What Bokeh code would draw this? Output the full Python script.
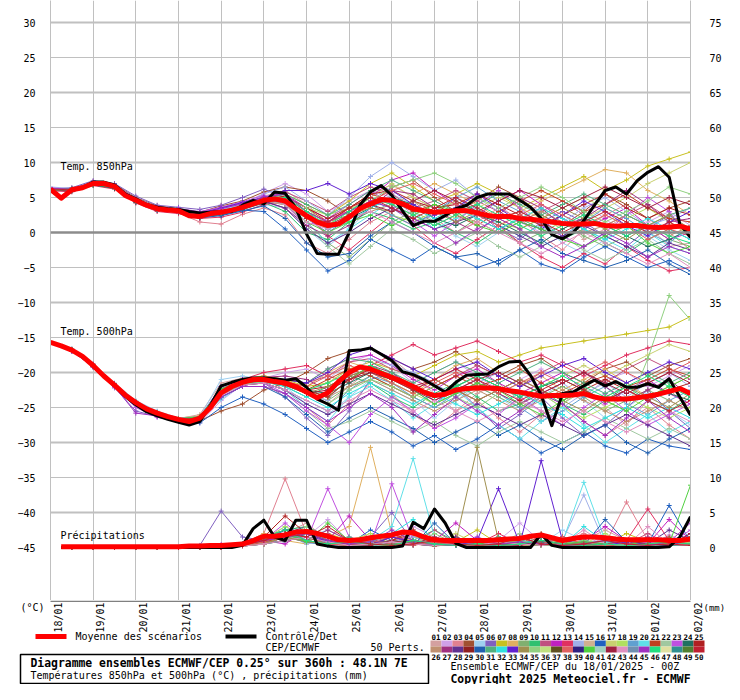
import math
from bokeh.plotting import figure
from bokeh.models import Range1d, LinearAxis, FixedTicker, Grid, Span
from bokeh.layouts import column
from bokeh.core.properties import value
from bokeh.embed import file_html
from bokeh.resources import INLINE

MONO = "DejaVu Sans Mono"

# ---------------- time steps (hours after 18/01/2025 00Z) ----------------
HOURS_6 = list(range(0, 361, 6))          # 61 steps
HOURS_12 = list(range(0, 361, 12))        # 31 steps
RR_HOURS_6 = list(range(6, 361, 6))       # 60 steps
RR_HOURS_12 = list(range(12, 361, 12))    # 30 steps

DATE_LABELS = ["18/01", "19/01", "20/01", "21/01", "22/01", "23/01", "24/01", "25/01",
               "26/01", "27/01", "28/01", "29/01", "30/01", "31/01", "01/02", "02/02"]
DATE_DAYS = list(range(16))
LEFT_TICKS = [30, 25, 20, 15, 10, 5, 0, -5, -10, -15, -20, -25, -30, -35, -40, -45]
RIGHT_TICKS = [75, 70, 65, 60, 55, 50, 45, 40, 35, 30, 25, 20, 15, 10, 5, 0]

# ---------------- mean / control (6-hourly) ----------------
MEAN_T850 = [6.2, 4.9, 6.1, 6.4, 7.0, 7.0, 6.6, 5.3, 4.6, 3.9, 3.4, 3.2, 3.1, 2.4, 2.3, 2.7,
             2.9, 3.2, 3.6, 4.1, 4.6, 4.8, 4.5, 3.4, 2.4, 1.5, 1.0, 1.2, 2.2, 3.4, 4.1, 4.7,
             4.6, 4.1, 3.4, 3.1, 2.9, 3.0, 3.1, 3.1, 2.8, 2.4, 2.3, 2.3, 2.0, 1.9, 1.7, 1.5,
             1.3, 1.2, 1.2, 1.3, 1.0, 0.9, 1.0, 1.0, 0.8, 0.7, 0.8, 0.9, 0.5]
CTRL_T850 = [6.0, 5.0, 6.0, 6.4, 7.2, 7.2, 6.8, 5.5, 4.8, 4.0, 3.6, 3.4, 3.3, 3.0, 2.8, 2.9,
             3.0, 3.0, 3.9, 4.6, 4.1, 5.8, 5.6, 3.5, -0.2, -3.0, -3.1, -3.1, 0.0, 3.9, 5.8, 6.7,
             5.3, 3.1, 1.0, 1.6, 1.6, 2.4, 3.4, 3.9, 5.0, 5.5, 5.5, 5.5, 4.6, 3.6, 2.0, -0.3,
             -0.9, 0.0, 1.7, 3.9, 6.0, 6.5, 5.5, 7.4, 8.6, 9.4, 7.9, 1.2, -0.7]
MEAN_T500 = [-15.7, -16.2, -16.8, -17.7, -19.0, -20.5, -21.8, -23.2, -24.3, -25.2,
             -25.8, -26.3, -26.7, -27.0, -26.5, -25.0, -22.9, -22.0, -21.4, -21.0,
             -21.0, -21.3, -21.5, -22.0, -22.8, -23.6, -22.9, -21.3, -20.0, -19.2,
             -19.5, -20.1, -20.7, -21.3, -22.0, -22.8, -23.3, -23.1, -22.5, -22.3,
             -22.2, -22.2, -22.3, -22.6, -22.8, -23.1, -23.4, -23.3, -23.3, -23.2,
             -23.0, -23.5, -23.8, -23.8, -23.8, -23.6, -23.4, -23.1, -22.7, -22.3, -23.0]
CTRL_T500 = [-15.7, -16.2, -16.8, -17.7, -19.0, -20.5, -21.9, -23.4, -24.6, -25.6,
             -26.2, -26.7, -27.1, -27.5, -27.0, -24.7, -21.9, -21.4, -21.0, -20.8,
             -20.8, -20.9, -21.1, -20.9, -22.1, -23.8, -24.5, -25.4, -16.9, -16.8,
             -16.5, -17.4, -18.3, -19.9, -20.3, -21.0, -21.9, -22.8, -21.4, -20.4,
             -20.3, -20.2, -19.2, -18.5, -18.4, -20.4, -23.2, -27.6, -23.0, -22.8,
             -21.9, -21.1, -21.9, -21.3, -22.1, -22.1, -21.6, -22.1, -20.9, -23.5, -26.1]
MEAN_RR = [0.1, 0.1, 0.1, 0.1, 0.1, 0.1, 0.1, 0.1, 0.1, 0.1, 0.1, 0.1,
           0.2, 0.2, 0.3, 0.3, 0.4, 0.5, 1.0, 1.6, 1.6, 1.8, 2.2, 2.3,
           2.0, 1.6, 1.1, 1.0, 1.1, 1.4, 1.6, 1.8, 2.2, 2.1, 1.5, 1.1,
           1.0, 1.0, 1.0, 1.0, 1.0, 1.1, 1.2, 1.3, 1.6, 1.8, 1.4, 1.0,
           1.3, 1.5, 1.5, 1.4, 1.2, 1.1, 1.1, 1.1, 1.1, 1.0, 1.0, 1.2]
CTRL_RR = [0, 0, 0, 0, 0, 0, 0, 0, 0, 0, 0, 0, 0, 0, 0, 0, 0,
           0.3, 2.7, 3.9, 1.5, 1.0, 3.9, 3.9, 0.5, 0.2,
           0, 0, 0, 0, 0, 0,
           0.2, 3.6, 2.7, 5.5, 3.5, 0.6,
           0, 0, 0, 0, 0, 0, 0,
           1.9, 0.3,
           0, 0, 0, 0, 0, 0, 0, 0, 0, 0,
           0.1, 1.5, 4.4]

# ---------------- perturbed members (12-hourly) ----------------
M01_T850 = [6.0, 6.3, 7.2, 6.8, 4.9, 3.6, 3.0, 2.0, 2.6, 3.9, 5.2, 6.0, 4.0, 1.5, 3.0, 5.5, 6.8, 5.0, 3.5, 4.2, 2.0, 0.5, 1.8, 3.5, 2.0, -1.0, 0.5, 2.5, 1.0, -2.0, -1.5]
M02_T850 = [6.4, 5.9, 6.8, 6.4, 4.3, 3.2, 3.3, 2.6, 3.4, 4.1, 5.6, 7.0, 5.5, 3.0, 4.5, 6.0, 5.0, 2.5, 1.0, 3.5, 5.5, 4.0, 1.5, 0.0, 2.5, 4.0, 2.0, -0.5, 1.5, 3.0, 1.0]
M03_T850 = [5.9, 6.0, 7.1, 6.5, 4.7, 3.3, 2.8, 1.5, 1.2, 2.6, 3.5, 2.5, -1.5, -3.0, -1.0, 1.5, 3.0, 4.5, 2.0, 0.0, 1.5, 3.5, 2.0, -0.5, -2.5, 0.5, 2.5, 4.0, 2.0, 0.0, -2.5]
M04_T850 = [6.3, 6.2, 7.3, 6.9, 5.0, 3.8, 3.4, 2.9, 3.8, 4.5, 5.8, 6.5, 6.0, 4.5, 2.5, 4.0, 6.5, 7.5, 5.0, 3.0, 4.5, 6.5, 5.0, 2.5, 1.0, 3.0, 5.5, 4.0, 2.0, 3.5, 4.5]
M05_T850 = [6.1, 6.0, 6.9, 6.5, 4.4, 3.1, 2.9, 2.2, 2.5, 3.0, 4.0, 3.5, 0.5, -2.0, 0.5, 3.5, 5.5, 4.0, 1.5, -0.5, -2.0, 0.0, 2.5, 1.0, -1.5, -3.0, -1.0, 1.5, -0.5, -2.5, -4.0]
M06_T850 = [6.2, 6.4, 7.4, 7.0, 5.2, 3.9, 3.6, 3.3, 3.9, 5.0, 6.2, 5.0, 2.0, 0.0, 2.0, 4.5, 3.5, 1.5, 2.5, 5.0, 3.0, 0.5, -1.0, 1.5, 3.0, 1.5, -0.5, -2.0, 0.5, 2.5, 0.0]
M07_T850 = [6.0, 6.1, 7.0, 6.7, 4.8, 3.5, 3.2, 2.4, 3.0, 3.8, 4.8, 5.5, 4.0, 2.5, 4.5, 7.0, 8.5, 6.5, 4.5, 5.5, 7.0, 5.5, 3.5, 5.0, 6.5, 8.0, 6.0, 7.5, 9.5, 10.5, 11.5]
M08_T850 = [6.3, 6.0, 6.9, 6.4, 4.5, 3.4, 3.1, 2.5, 3.1, 3.5, 4.5, 4.0, 2.0, 1.0, 3.5, 5.0, 4.0, 5.5, 7.0, 5.5, 4.0, 2.0, 3.0, 4.5, 6.0, 7.5, 9.0, 8.5, 6.0, 4.5, 2.5]
M09_T850 = [6.1, 6.2, 7.1, 6.6, 4.6, 3.4, 3.1, 2.2, 2.8, 3.5, 4.5, 4.0, 1.5, -1.5, -3.5, -1.0, 1.5, 3.0, 1.5, 0.0, 2.0, 0.5, -1.5, 0.0, 1.5, -0.5, -2.0, -0.5, 1.0, -1.0, -2.0]
M10_T850 = [6.1, 6.2, 7.1, 6.6, 4.6, 3.4, 3.0, 2.3, 2.8, 3.4, 4.3, 3.0, 0.0, -1.0, 1.5, 3.0, 2.0, 0.5, 1.5, 0.0, -1.5, 0.5, 2.0, 0.5, -1.0, 0.5, -1.5, -3.0, -1.0, 0.5, -1.0]
M11_T850 = [6.2, 6.0, 6.9, 6.6, 4.5, 3.3, 3.0, 2.4, 3.0, 3.8, 4.9, 5.8, 4.5, 3.0, 5.0, 6.5, 5.5, 3.5, 4.5, 6.0, 4.5, 3.0, 1.5, 3.0, 4.5, 2.5, 1.0, 2.5, 4.0, 2.0, 0.5]
M12_T850 = [6.2, 6.1, 7.0, 6.5, 4.5, 3.3, 3.2, 2.7, 3.5, 4.2, 5.0, 5.5, 3.5, 2.0, 3.0, 5.0, 7.5, 8.5, 6.0, 4.0, 2.5, 4.5, 6.0, 4.0, 2.0, 0.5, 2.0, 3.5, 1.0, -1.0, 0.0]
M13_T850 = [6.0, 5.8, 6.7, 6.2, 4.2, 3.0, 2.7, 2.0, 2.2, 2.9, 4.0, 4.5, 2.5, -0.5, -2.5, 0.0, 2.5, 1.0, -1.5, -3.0, -1.0, 1.0, -1.5, -3.5, -5.0, -3.0, -4.5, -2.0, -4.0, -5.5, -5.0]
M14_T850 = [6.5, 6.3, 7.2, 6.8, 4.9, 3.7, 3.3, 2.6, 3.3, 4.0, 5.5, 6.5, 4.5, 2.5, 5.0, 8.0, 10.0, 8.0, 6.0, 7.5, 5.0, 3.0, 4.5, 3.0, 1.5, 3.5, 5.0, 3.0, 1.0, 2.0, 3.5]
M16_T850 = [6.1, 6.0, 6.8, 6.4, 4.4, 3.2, 3.0, 2.4, 2.5, 3.2, 3.0, 0.5, -2.5, -5.5, -4.0, -1.0, -2.5, -4.0, -2.0, -3.5, -5.0, -4.0, -2.5, -4.5, -5.5, -3.5, -2.0, -3.5, -5.0, -4.0, -5.5]
M17_T850 = [6.3, 6.2, 7.1, 6.7, 4.7, 3.5, 3.2, 2.5, 3.1, 3.8, 4.7, 4.5, 2.0, 0.5, 2.5, 5.0, 7.0, 5.0, 3.5, 2.0, 3.5, 5.0, 3.5, 2.0, 0.5, 2.0, 3.5, 5.0, 7.0, 8.5, 10.0]
M18_T850 = [6.1, 6.1, 7.0, 6.5, 4.6, 3.4, 3.1, 2.3, 2.9, 3.6, 4.6, 5.0, 3.5, 2.5, 3.5, 4.0, 2.5, 1.5, 3.0, 4.5, 3.0, 1.5, 0.5, 2.0, 3.5, 5.0, 3.5, 2.0, 3.5, 1.5, -0.5]
M19_T850 = [6.2, 6.1, 6.9, 6.6, 4.6, 3.4, 3.0, 2.2, 2.7, 3.6, 4.8, 5.5, 3.0, 0.5, 2.5, 4.0, 2.5, 1.0, 3.0, 5.0, 6.5, 4.5, 3.0, 1.5, -0.5, 1.5, 3.5, 2.0, 0.0, -1.5, 1.0]
M20_T850 = [6.3, 6.2, 7.1, 6.7, 4.7, 3.5, 3.1, 2.5, 3.2, 3.9, 4.9, 4.5, 1.5, -1.5, 0.5, 2.5, 4.5, 3.0, 0.5, 2.0, 3.5, 1.0, -0.5, 1.0, 2.5, 0.5, -1.0, -2.5, 0.0, -2.0, -3.0]
M21_T850 = [6.0, 6.2, 7.0, 6.8, 4.8, 3.6, 3.2, 2.6, 3.0, 3.7, 4.6, 5.0, 3.5, 1.5, 3.5, 5.5, 4.5, 3.0, 4.0, 2.5, 1.0, 3.0, 4.5, 6.0, 4.5, 3.0, 4.0, 5.5, 3.5, 2.0, 1.5]
M22_T850 = [6.2, 6.2, 7.0, 6.6, 4.6, 3.5, 3.1, 2.4, 2.9, 3.6, 4.4, 4.0, 1.0, -2.0, -4.5, -2.0, 0.5, -1.0, -3.0, -1.5, 0.0, -2.0, -3.5, -2.0, -0.5, -2.5, -4.0, -2.5, -1.0, -3.0, -4.5]
M23_T850 = [6.4, 6.1, 7.2, 6.6, 4.6, 3.5, 3.4, 3.0, 3.6, 4.4, 5.3, 4.0, 1.0, 2.0, 4.0, 6.0, 4.0, 1.5, -0.5, 1.5, 4.0, 6.0, 3.5, 1.0, -0.5, -2.0, 0.0, 2.5, 5.0, 3.0, -1.0]
M24_T850 = [6.1, 5.9, 6.8, 6.3, 4.3, 3.2, 2.9, 2.2, 2.6, 3.3, 4.2, 4.5, 2.5, 0.5, 2.0, 3.5, 5.0, 4.0, 2.0, 1.0, 2.5, 1.5, 0.0, -1.5, 0.5, 2.0, 1.0, -0.5, -2.0, -1.0, 0.5]
M25_T850 = [6.0, 6.1, 7.0, 6.7, 4.7, 3.4, 3.0, 2.3, 2.9, 3.7, 4.8, 5.2, 3.5, 2.0, 3.5, 5.5, 6.0, 4.5, 3.5, 4.0, 5.5, 4.0, 2.5, 1.0, 2.5, 4.0, 5.5, 3.5, 2.0, 3.5, 2.5]
M26_T850 = [6.3, 6.0, 6.9, 6.5, 4.5, 3.3, 3.0, 2.2, 2.8, 3.5, 4.4, 4.0, 2.0, 1.0, 2.0, 3.0, 4.0, 2.5, 1.0, 2.5, 1.5, 0.0, 1.5, 3.0, 1.5, 0.0, 1.0, 2.5, 1.0, -0.5, 1.0]
M27_T850 = [6.2, 6.3, 7.1, 6.7, 4.7, 3.3, 3.0, 2.3, 2.9, 3.5, 4.4, 3.5, 1.0, -0.5, 1.0, 3.5, 6.0, 5.5, 3.5, 1.5, 0.0, 2.5, 5.0, 3.5, 1.0, 2.0, 4.0, 6.0, 4.0, 1.5, 2.0]
M28_T850 = [6.2, 6.1, 7.0, 6.6, 4.6, 3.4, 3.1, 2.3, 2.9, 3.6, 4.5, 3.5, 0.5, -1.5, 0.0, 2.0, 3.5, 2.0, 0.5, 1.5, 2.5, 1.0, -0.5, -2.0, -0.5, 1.0, -0.5, -2.0, -3.5, -1.5, -2.5]
M30_T850 = [6.0, 6.0, 6.9, 6.5, 4.5, 3.3, 3.1, 2.1, 2.4, 3.1, 3.8, 2.0, -1.5, -3.5, -3.0, -0.5, 1.5, 0.0, -2.0, -3.5, -3.0, -4.5, -2.5, -1.0, -3.0, -4.0, -5.0, -4.0, -2.5, -4.5, -6.0]
M31_T850 = [6.1, 6.2, 7.1, 6.7, 4.7, 3.5, 3.2, 2.4, 3.0, 3.7, 4.7, 5.5, 4.0, 2.5, 4.0, 6.0, 7.5, 6.0, 4.5, 3.0, 4.0, 5.5, 4.0, 2.5, 4.0, 5.5, 4.0, 2.5, 1.0, 2.5, 3.5]
M32_T850 = [6.2, 6.1, 7.0, 6.6, 4.6, 3.4, 3.0, 2.3, 2.9, 3.6, 4.6, 4.5, 2.5, 0.5, 1.5, 3.5, 5.0, 3.5, 2.0, 3.5, 2.0, 0.5, 2.0, 3.5, 2.0, 0.5, -1.0, 0.5, 2.0, 0.5, -1.0]
M33_T850 = [6.3, 6.2, 7.0, 6.6, 4.6, 3.5, 3.3, 2.8, 3.5, 4.3, 5.0, 6.0, 6.0, 7.0, 5.5, 7.0, 6.0, 4.0, 2.5, 3.5, 5.5, 3.5, 1.5, 0.5, 2.5, 4.5, 3.0, 1.0, -0.5, 1.5, 3.0]
M34_T850 = [6.0, 6.1, 7.0, 6.6, 4.7, 3.4, 3.1, 2.4, 2.9, 3.6, 4.6, 5.0, 3.0, 1.5, 2.5, 3.5, 3.0, 4.5, 3.0, 1.5, 3.0, 2.0, 0.5, 2.0, 3.5, 2.0, 0.5, -1.0, 1.0, 2.5, 0.5]
M35_T850 = [6.1, 6.1, 7.0, 6.5, 4.5, 3.4, 3.2, 2.6, 3.0, 3.6, 4.5, 5.0, 3.5, 1.0, 2.0, 4.5, 6.5, 7.5, 8.5, 7.0, 5.0, 3.5, 5.0, 6.5, 5.0, 3.0, 1.5, 3.0, 4.5, 6.5, 5.5]
M38_T850 = [6.3, 6.2, 7.1, 6.7, 4.7, 3.5, 3.2, 2.5, 3.0, 3.8, 4.8, 5.0, 3.0, 1.5, 3.0, 4.5, 6.0, 7.0, 5.5, 4.0, 2.5, 1.0, 2.5, 4.0, 2.5, 1.0, 2.5, 1.0, -1.0, 0.5, -0.5]
M40_T850 = [6.2, 6.0, 6.8, 6.5, 4.6, 3.3, 3.0, 2.3, 2.8, 3.7, 4.7, 4.0, 1.5, 0.0, 1.5, 2.5, 1.0, 2.5, 4.0, 3.0, 1.0, 0.0, 1.5, 0.5, -1.0, -2.0, -0.5, 1.0, -1.5, -3.0, -2.0]
M42_T850 = [6.1, 6.0, 6.9, 6.5, 4.5, 3.3, 3.0, 2.2, 2.8, 3.5, 4.5, 4.5, 2.5, 1.0, 2.5, 4.0, 3.0, 4.5, 6.0, 4.5, 3.0, 4.5, 6.0, 5.0, 3.5, 5.0, 6.5, 5.0, 3.5, 5.0, 4.0]
M43_T850 = [6.2, 6.1, 7.0, 6.6, 4.6, 3.4, 3.1, 2.4, 2.9, 3.6, 4.6, 4.0, 1.5, 0.5, 2.0, 3.0, 1.5, 0.0, -1.5, 0.0, 1.5, 0.0, -1.5, -3.0, -1.5, 0.0, -1.5, -3.0, -4.5, -3.0, -5.0]
M45_T850 = [6.3, 6.2, 7.1, 6.7, 4.8, 3.6, 3.3, 2.7, 3.4, 4.1, 5.1, 5.5, 3.0, 1.5, 3.0, 4.5, 3.5, 2.0, 0.5, -1.5, 0.5, 2.0, 0.5, -2.0, -3.5, -2.0, 0.0, -1.5, -3.5, -2.0, -3.0]
M46_T850 = [6.1, 6.2, 7.0, 6.6, 4.6, 3.4, 3.1, 2.3, 2.8, 3.6, 4.6, 5.0, 3.0, 1.0, 3.0, 5.0, 4.0, 2.5, 1.0, 2.5, 4.0, 2.5, 1.0, -0.5, 1.0, 2.5, 1.0, -0.5, 1.0, -0.5, -1.5]
M50_T850 = [6.2, 6.1, 7.0, 6.6, 4.7, 3.5, 3.1, 2.4, 3.0, 3.7, 4.7, 4.5, 2.0, 1.5, 3.5, 5.0, 3.5, 2.0, 3.5, 5.0, 3.5, 2.0, 3.0, 1.5, 0.0, 1.5, 3.0, 1.5, 0.0, 1.5, 0.0]

M01_T500 = [-15.6, -16.9, -19.1, -21.7, -24.4, -25.9, -26.6, -26.0, -21.5, -20.8, -20.5, -21.0, -22.5, -24.5, -22.0, -19.5, -18.0, -20.5, -23.0, -25.5, -23.0, -21.5, -24.0, -26.5, -24.5, -22.0, -25.0, -27.5, -24.0, -22.5, -25.0]
M02_T500 = [-15.8, -16.7, -18.9, -21.9, -24.2, -25.7, -26.8, -27.2, -24.0, -21.8, -20.8, -20.0, -19.5, -21.0, -18.5, -17.5, -19.0, -21.5, -20.0, -18.5, -20.5, -22.5, -21.0, -19.5, -21.5, -23.5, -21.0, -20.0, -22.0, -20.5, -19.0]
M03_T500 = [-15.7, -16.8, -19.0, -21.6, -24.5, -26.0, -26.9, -26.8, -22.0, -21.0, -20.8, -22.5, -25.0, -27.5, -24.5, -21.5, -23.0, -26.0, -28.0, -25.5, -24.0, -26.5, -28.5, -26.0, -24.5, -27.0, -29.0, -27.0, -25.0, -27.5, -29.5]
M04_T500 = [-15.7, -16.9, -19.2, -22.0, -24.6, -26.1, -26.9, -26.9, -25.5, -24.5, -22.5, -21.5, -20.0, -18.0, -17.0, -16.5, -18.0, -19.5, -18.5, -17.0, -19.0, -20.5, -19.0, -18.0, -20.0, -21.5, -19.5, -18.5, -20.5, -19.0, -18.0]
M05_T500 = [-15.6, -16.6, -18.8, -21.5, -24.0, -25.5, -26.5, -26.3, -21.0, -20.5, -21.0, -22.0, -24.5, -26.0, -23.5, -21.0, -22.5, -24.0, -26.5, -24.0, -22.0, -23.5, -25.5, -23.5, -21.5, -24.0, -26.5, -25.0, -23.0, -25.5, -27.5]
M06_T500 = [-15.8, -16.9, -19.2, -22.2, -25.5, -26.3, -26.9, -26.4, -22.5, -21.5, -21.5, -23.5, -26.5, -29.0, -25.5, -21.0, -20.0, -22.5, -24.5, -22.0, -25.0, -28.0, -26.0, -23.5, -26.5, -29.0, -27.5, -25.0, -22.5, -25.5, -28.0]
M07_T500 = [-15.7, -16.8, -19.0, -21.8, -24.3, -25.8, -26.6, -26.4, -22.5, -21.0, -20.5, -21.0, -22.0, -21.5, -19.5, -18.5, -19.5, -20.5, -19.0, -17.5, -17.0, -18.5, -17.5, -16.5, -16.0, -15.5, -15.0, -14.5, -14.0, -13.5, -12.0]
M08_T500 = [-15.7, -16.7, -18.9, -21.7, -24.2, -25.7, -26.5, -26.2, -22.8, -21.6, -21.2, -21.5, -22.0, -20.0, -18.5, -19.5, -21.5, -23.0, -21.0, -19.0, -18.0, -20.0, -21.5, -20.5, -22.5, -21.0, -19.5, -21.5, -23.5, -22.0, -20.5]
M09_T500 = [-15.7, -16.8, -19.0, -21.8, -24.3, -25.8, -26.7, -26.4, -22.5, -21.2, -21.0, -21.5, -23.0, -24.0, -22.0, -20.5, -22.0, -23.5, -25.0, -23.5, -22.0, -23.5, -25.0, -23.5, -22.0, -23.5, -25.5, -24.0, -22.5, -24.0, -25.5]
M10_T500 = [-15.6, -16.8, -19.1, -21.9, -24.4, -25.9, -26.8, -26.6, -23.0, -21.5, -21.3, -22.0, -23.5, -22.0, -20.5, -21.5, -23.5, -25.0, -23.0, -21.5, -23.5, -25.5, -24.5, -22.5, -24.5, -26.0, -24.0, -22.0, -24.0, -25.5, -23.5]
M11_T500 = [-15.7, -16.8, -19.0, -21.8, -24.3, -25.8, -26.7, -26.6, -23.0, -21.5, -21.0, -21.0, -21.5, -20.5, -18.5, -18.0, -19.5, -20.5, -22.0, -20.5, -19.0, -20.5, -22.0, -20.0, -18.5, -20.0, -21.5, -19.5, -18.0, -19.5, -21.0]
M12_T500 = [-15.8, -16.9, -19.1, -21.8, -24.3, -25.8, -26.7, -26.6, -23.5, -22.0, -21.0, -21.0, -21.5, -19.5, -18.0, -17.5, -19.0, -21.0, -22.5, -20.5, -19.5, -21.5, -23.0, -21.5, -20.0, -22.5, -24.5, -22.5, -21.0, -23.0, -24.5]
M13_T500 = [-15.7, -16.8, -19.0, -21.8, -24.3, -25.8, -26.6, -26.4, -22.5, -21.0, -20.0, -19.5, -19.0, -20.5, -21.5, -19.0, -17.5, -16.0, -17.5, -16.5, -15.5, -17.0, -18.5, -17.5, -19.0, -20.5, -19.0, -17.5, -16.5, -15.5, -16.0]
M14_T500 = [-15.7, -16.7, -18.9, -21.6, -24.1, -25.6, -26.5, -26.3, -22.0, -21.2, -21.0, -21.8, -23.0, -24.0, -20.5, -18.0, -19.0, -20.0, -21.5, -23.5, -21.5, -20.0, -21.5, -23.0, -25.0, -23.0, -21.5, -23.5, -21.5, -20.0, -22.0]
M16_T500 = [-15.7, -16.9, -19.2, -22.0, -24.5, -26.0, -26.9, -27.2, -25.0, -23.5, -24.5, -26.0, -28.0, -30.0, -28.5, -27.0, -28.5, -30.5, -29.0, -31.0, -29.5, -27.5, -29.5, -31.5, -30.0, -28.5, -30.5, -31.5, -29.5, -30.5, -31.0]
M17_T500 = [-15.7, -16.8, -19.0, -21.8, -24.3, -25.8, -26.7, -26.5, -22.8, -21.4, -21.0, -21.5, -22.5, -21.5, -19.5, -19.0, -20.5, -22.0, -23.5, -22.0, -20.5, -22.0, -23.5, -22.0, -20.5, -19.0, -20.5, -19.0, -17.5, -16.0, -17.0]
M18_T500 = [-15.7, -16.8, -19.0, -21.8, -24.3, -25.8, -26.7, -26.5, -23.0, -21.5, -21.0, -21.8, -23.0, -23.5, -21.0, -20.0, -21.5, -23.0, -24.5, -23.0, -21.5, -23.0, -24.5, -23.0, -25.0, -26.5, -25.0, -23.5, -25.0, -26.5, -25.0]
M19_T500 = [-15.7, -16.8, -19.0, -21.7, -24.3, -25.8, -26.7, -26.6, -23.0, -21.5, -21.5, -22.5, -24.0, -25.5, -22.5, -20.5, -21.5, -23.5, -25.0, -23.0, -21.5, -23.0, -25.0, -27.0, -25.5, -23.5, -22.0, -24.5, -26.0, -24.0, -22.5]
M20_T500 = [-15.6, -16.7, -18.9, -21.7, -24.3, -25.9, -26.8, -26.7, -23.8, -21.8, -21.5, -22.5, -25.0, -27.0, -23.5, -22.0, -24.0, -26.5, -24.5, -22.5, -25.0, -27.5, -29.5, -27.0, -25.0, -27.5, -30.0, -28.0, -26.0, -28.5, -27.0]
M21_T500 = [-15.7, -16.8, -19.1, -21.9, -24.4, -25.9, -26.7, -26.5, -23.0, -21.8, -21.5, -21.5, -22.5, -21.0, -19.5, -20.5, -22.0, -23.5, -22.0, -20.5, -22.0, -21.0, -19.5, -21.5, -23.0, -21.5, -20.5, -22.0, -21.0, -19.5, -20.5]
M22_T500 = [-15.7, -16.8, -19.0, -21.8, -24.3, -25.8, -26.7, -26.6, -23.5, -22.0, -22.0, -23.0, -25.5, -28.0, -27.0, -25.5, -27.0, -28.5, -27.0, -29.0, -30.5, -28.5, -27.0, -28.5, -30.0, -28.5, -26.5, -28.0, -29.5, -28.0, -29.5]
M23_T500 = [-15.8, -16.9, -19.2, -22.1, -25.0, -26.4, -27.0, -26.7, -22.2, -21.3, -21.5, -23.0, -25.5, -27.5, -30.0, -26.0, -23.5, -25.5, -28.0, -26.5, -24.5, -26.0, -23.5, -25.5, -27.5, -25.0, -23.0, -25.5, -27.5, -26.0, -24.5]
M24_T500 = [-15.7, -16.8, -19.0, -21.8, -24.3, -25.8, -26.6, -26.5, -22.6, -21.4, -21.2, -21.5, -22.5, -23.0, -21.5, -20.0, -21.0, -22.0, -23.5, -22.0, -20.5, -22.0, -23.5, -22.0, -21.0, -22.5, -24.0, -22.5, -21.5, -23.0, -24.0]
M25_T500 = [-15.7, -16.8, -19.0, -21.8, -24.3, -25.8, -26.7, -26.5, -22.7, -21.3, -21.0, -21.5, -22.5, -22.0, -20.5, -19.5, -20.5, -22.0, -21.0, -22.5, -24.0, -22.5, -21.0, -22.5, -24.0, -22.5, -21.0, -22.5, -24.0, -22.5, -21.5]
M26_T500 = [-15.7, -16.8, -19.0, -21.8, -24.3, -25.8, -26.7, -26.5, -22.9, -21.5, -21.2, -21.5, -22.5, -23.5, -22.0, -21.0, -22.5, -24.0, -25.5, -24.0, -22.5, -24.0, -25.5, -24.0, -22.5, -24.0, -25.5, -27.0, -25.5, -24.0, -25.5]
M27_T500 = [-15.6, -16.7, -18.8, -21.6, -24.2, -25.7, -26.6, -26.4, -22.4, -21.3, -20.7, -20.5, -21.0, -22.5, -21.0, -19.0, -20.0, -22.0, -24.0, -22.5, -21.0, -23.0, -24.5, -23.0, -21.5, -20.0, -22.0, -24.0, -22.5, -21.0, -23.5]
M28_T500 = [-15.7, -16.8, -19.0, -21.8, -24.3, -25.8, -26.7, -26.6, -23.2, -21.8, -21.5, -22.5, -24.5, -26.0, -24.5, -23.0, -24.5, -26.0, -27.5, -26.0, -24.5, -26.0, -27.5, -26.0, -27.5, -29.0, -27.5, -26.0, -27.5, -29.0, -30.5]
M30_T500 = [-15.7, -16.8, -19.1, -21.9, -24.4, -26.0, -26.8, -26.8, -23.5, -22.0, -22.0, -23.5, -26.0, -28.5, -26.5, -25.0, -26.5, -28.0, -30.0, -28.5, -27.0, -29.0, -27.5, -29.5, -31.0, -29.0, -27.5, -30.0, -31.5, -29.5, -28.0]
M31_T500 = [-15.7, -16.8, -19.0, -21.8, -24.3, -25.8, -26.7, -26.4, -22.4, -21.2, -20.8, -21.0, -21.5, -19.5, -18.0, -18.5, -20.0, -21.5, -20.0, -18.5, -20.0, -21.5, -20.0, -18.5, -20.0, -21.5, -23.0, -21.5, -20.0, -21.5, -20.0]
M32_T500 = [-15.7, -16.8, -19.0, -21.8, -24.3, -25.8, -26.7, -26.5, -23.0, -21.6, -21.3, -22.0, -23.5, -25.0, -23.0, -21.5, -23.0, -24.5, -23.0, -24.5, -26.0, -24.5, -23.0, -24.5, -26.0, -28.0, -26.5, -25.0, -26.5, -25.0, -26.5]
M33_T500 = [-15.7, -16.9, -19.1, -21.8, -24.3, -25.8, -26.7, -26.4, -22.0, -21.0, -20.8, -21.0, -21.5, -20.0, -17.5, -16.5, -18.0, -19.5, -21.0, -19.5, -18.5, -20.5, -22.0, -20.5, -19.0, -18.0, -20.0, -21.5, -20.0, -18.5, -19.5]
M34_T500 = [-15.7, -16.8, -19.0, -21.8, -24.3, -25.8, -26.7, -26.5, -22.7, -21.5, -21.2, -21.8, -23.0, -22.0, -20.5, -19.5, -21.0, -22.5, -21.0, -22.5, -24.0, -22.5, -21.0, -22.5, -24.0, -25.5, -23.5, -22.0, -23.5, -25.0, -23.0]
M35_T500 = [-15.7, -16.7, -19.0, -21.8, -24.3, -25.8, -26.6, -26.5, -23.2, -21.7, -21.3, -21.8, -23.0, -24.5, -22.5, -21.0, -22.0, -23.5, -22.0, -23.5, -25.0, -23.0, -21.5, -23.0, -24.5, -22.5, -24.0, -25.5, -18.0, -9.0, -12.5]
M38_T500 = [-15.7, -16.8, -19.0, -21.8, -24.3, -25.8, -26.7, -26.5, -22.8, -21.4, -21.0, -21.3, -22.0, -20.5, -19.0, -20.0, -21.5, -23.0, -21.5, -20.0, -21.5, -23.0, -21.5, -20.0, -21.5, -20.0, -18.5, -20.0, -21.5, -20.0, -18.5]
M40_T500 = [-15.6, -16.8, -19.0, -21.7, -24.2, -25.7, -26.6, -26.3, -22.3, -21.2, -21.0, -21.5, -22.5, -23.5, -21.0, -19.0, -20.5, -22.5, -24.5, -23.0, -21.5, -22.5, -24.5, -26.0, -24.0, -22.5, -24.0, -25.5, -23.5, -22.0, -20.5]
M42_T500 = [-15.7, -16.8, -19.0, -21.8, -24.3, -25.8, -26.7, -26.5, -22.9, -21.5, -21.2, -21.8, -23.0, -22.5, -21.0, -20.0, -21.0, -22.5, -24.0, -22.5, -21.0, -20.0, -21.5, -23.0, -21.5, -20.0, -21.5, -23.0, -21.5, -20.0, -21.5]
M43_T500 = [-15.7, -16.8, -19.0, -21.8, -24.3, -25.8, -26.7, -26.6, -23.3, -21.8, -21.5, -22.5, -24.0, -25.5, -24.0, -22.5, -24.0, -25.5, -24.0, -25.5, -27.0, -25.5, -24.0, -25.5, -27.0, -25.5, -27.0, -28.5, -27.0, -25.5, -27.0]
M45_T500 = [-15.8, -16.9, -19.1, -22.0, -25.8, -26.2, -26.9, -26.7, -23.5, -22.0, -22.0, -23.0, -25.0, -27.0, -25.0, -23.0, -25.0, -28.5, -26.0, -23.5, -25.5, -27.5, -25.5, -23.0, -24.5, -27.0, -29.0, -26.5, -24.0, -26.5, -28.5]
M46_T500 = [-15.7, -16.8, -19.0, -21.8, -24.3, -25.8, -26.7, -26.5, -22.6, -21.3, -21.0, -21.5, -22.5, -21.5, -20.0, -19.0, -20.5, -22.0, -23.5, -22.0, -20.5, -22.0, -23.5, -22.0, -20.5, -22.0, -23.5, -22.0, -20.5, -22.0, -23.5]
M50_T500 = [-15.7, -16.8, -19.0, -21.8, -24.3, -25.8, -26.7, -26.5, -22.9, -21.4, -21.0, -21.5, -22.5, -23.5, -21.0, -19.5, -21.0, -22.5, -21.0, -19.5, -21.0, -22.5, -24.0, -22.5, -21.0, -22.5, -24.0, -22.5, -24.0, -25.5, -24.0]

M01_RR = [0, 0, 0, 0, 0, 0, 0, 0.2, 0.5, 1.5, 2.0, 3.5, 1.0, 0.5, 0.3, 1.5, 2.5, 1.0, 0.3, 0.5, 0.8, 1.5, 0.5, 0.3, 1.0, 2.5, 1.0, 0.5, 0.3, 0.8]
M02_RR = [0, 0, 0, 0, 0, 0, 0, 0, 0.3, 0.8, 2.5, 1.5, 4.0, 0.8, 0.2, 0.5, 3.0, 1.5, 0.5, 0.2, 1.0, 3.5, 0.8, 0.2, 0.5, 1.5, 0.3, 0.2, 1.8, 0.5]
M03_RR = [0, 0, 0, 0, 0, 0, 0.1, 0.3, 0.5, 2.0, 9.8, 2.0, 1.0, 0.5, 0.8, 2.0, 1.0, 0.5, 0.3, 0.2, 1.5, 0.5, 0.3, 0.8, 2.0, 0.5, 6.5, 1.0, 0.5, 0.3]
M04_RR = [0, 0, 0, 0, 0, 0, 0, 0, 0.2, 0.5, 1.5, 2.5, 1.0, 0.3, 0.5, 1.0, 0.5, 0.2, 0.5, 0.8, 0.3, 0.5, 1.5, 0.8, 0.3, 0.5, 0.2, 0.8, 1.5, 0.5]
M05_RR = [0, 0, 0, 0, 0, 0, 0, 0.2, 0.4, 1.0, 3.0, 1.5, 2.5, 1.0, 0.5, 1.0, 2.0, 0.8, 0.5, 0.3, 0.5, 1.0, 0.5, 2.5, 1.0, 0.5, 0.3, 0.5, 1.0, 0.5]
M06_RR = [0, 0, 0, 0, 0, 0, 0.3, 5.2, 1.5, 1.0, 0.8, 2.0, 0.5, 0.3, 1.5, 5.0, 0.8, 0.5, 0.3, 0.2, 1.0, 0.5, 0.3, 0.8, 0.5, 0.2, 0.5, 1.0, 0.3, 2.0]
M07_RR = [0, 0, 0, 0, 0, 0, 0, 0, 0.3, 1.0, 1.5, 0.8, 2.0, 1.0, 0.5, 0.3, 1.5, 0.5, 0.8, 2.5, 0.5, 0.3, 0.5, 1.0, 0.3, 0.5, 2.0, 0.8, 0.5, 1.0]
M08_RR = [0, 0, 0, 0, 0, 0, 0, 0.1, 0.5, 2.0, 1.0, 0.5, 1.5, 3.0, 14.3, 2.0, 0.5, 1.0, 0.5, 0.3, 0.5, 1.0, 0.5, 0.3, 0.8, 0.3, 0.5, 1.2, 0.5, 0.3]
M09_RR = [0, 0, 0, 0, 0, 0, 0, 0, 0.3, 1.0, 2.0, 1.5, 0.8, 0.5, 1.0, 0.5, 1.5, 0.8, 0.3, 0.5, 1.0, 0.5, 0.3, 1.5, 0.5, 0.3, 0.8, 0.5, 1.0, 0.5]
M10_RR = [0, 0, 0, 0, 0, 0, 0, 0, 0.2, 1.5, 2.5, 3.0, 1.5, 0.8, 0.3, 0.5, 1.0, 2.5, 0.8, 0.3, 0.5, 0.2, 0.5, 1.5, 0.5, 0.3, 0.8, 0.5, 0.3, 1.5]
M11_RR = [0, 0, 0, 0, 0, 0, 0, 0.2, 0.5, 1.5, 2.5, 1.0, 2.0, 0.5, 0.8, 1.5, 0.5, 2.5, 0.5, 0.3, 0.5, 1.5, 0.5, 0.3, 0.5, 1.0, 0.5, 2.0, 0.5, 0.3]
M12_RR = [0, 0, 0, 0, 0, 0, 0, 0.4, 0.3, 1.0, 0.5, 2.5, 1.0, 4.5, 1.0, 0.5, 2.0, 1.0, 3.5, 1.0, 0.5, 1.0, 0.5, 0.3, 1.0, 3.0, 1.0, 0.5, 4.0, 1.0]
M13_RR = [0, 0, 0, 0, 0, 0, 0, 0, 0.3, 0.5, 1.5, 1.0, 0.5, 0.3, 1.0, 2.0, 0.5, 0.3, 0.8, 0.5, 2.0, 0.5, 1.5, 0.5, 0.3, 0.5, 1.0, 5.5, 1.0, 0.5]
M14_RR = [0, 0, 0, 0, 0, 0, 0, 0, 0.5, 1.0, 2.0, 0.5, 1.0, 0.5, 0.3, 0.8, 1.5, 0.5, 0.3, 1.0, 0.5, 0.3, 0.5, 1.0, 7.5, 0.5, 0.3, 0.8, 0.5, 0.3]
M16_RR = [0, 0, 0, 0, 0, 0, 0, 0.2, 0.3, 0.8, 1.5, 0.8, 0.3, 0.5, 2.5, 1.0, 0.5, 0.3, 1.0, 0.5, 0.3, 1.0, 0.5, 0.3, 0.5, 1.0, 0.3, 0.5, 6.0, 0.8]
M17_RR = [0, 0, 0, 0, 0, 0, 0, 0, 0.2, 0.8, 1.5, 2.0, 1.0, 0.3, 0.5, 1.0, 0.5, 0.3, 2.0, 0.5, 0.3, 0.5, 1.0, 0.5, 0.3, 0.5, 0.3, 0.8, 0.5, 1.0]
M18_RR = [0, 0, 0, 0, 0, 0, 0, 0.1, 0.4, 1.2, 3.0, 1.5, 0.5, 1.0, 2.0, 0.5, 0.3, 1.0, 0.5, 0.8, 0.5, 0.3, 0.5, 1.0, 0.5, 2.0, 0.5, 0.3, 0.5, 0.8]
M19_RR = [0, 0, 0, 0, 0, 0, 0, 0, 0.2, 0.5, 1.0, 2.0, 0.8, 0.3, 0.5, 1.5, 0.8, 0.3, 0.5, 0.3, 1.0, 0.5, 0.3, 0.8, 0.5, 0.3, 1.0, 0.5, 0.3, 0.5]
M20_RR = [0, 0, 0, 0, 0, 0, 0, 0, 0.3, 1.0, 2.0, 1.0, 0.5, 0.8, 1.0, 3.0, 12.7, 1.5, 0.5, 0.3, 0.5, 1.0, 0.5, 0.8, 9.3, 1.0, 0.5, 0.3, 0.8, 0.5]
M21_RR = [0, 0, 0, 0, 0, 0, 0, 0, 0.2, 0.8, 1.5, 2.5, 1.0, 0.5, 0.3, 1.0, 2.0, 0.5, 1.5, 0.5, 0.3, 0.5, 2.0, 0.8, 0.5, 0.3, 0.5, 1.0, 0.5, 0.3]
M22_RR = [0, 0, 0, 0, 0, 0, 0, 0, 0.3, 0.5, 1.0, 2.5, 1.5, 0.5, 0.3, 0.8, 0.5, 0.3, 0.5, 1.0, 0.5, 2.0, 0.5, 0.3, 0.5, 0.3, 1.0, 0.5, 0.3, 0.5]
M23_RR = [0, 0, 0, 0, 0, 0, 0, 0.3, 0.5, 1.0, 3.5, 1.0, 8.4, 1.5, 0.5, 9.1, 1.0, 0.5, 0.8, 0.5, 1.5, 0.5, 0.3, 0.5, 1.0, 0.5, 0.3, 0.8, 0.5, 2.5]
M24_RR = [0, 0, 0, 0, 0, 0, 0, 0, 0.2, 0.5, 1.0, 1.5, 0.5, 0.3, 0.5, 1.0, 0.5, 0.3, 0.5, 1.0, 0.3, 0.5, 0.8, 0.3, 0.5, 0.3, 0.5, 0.3, 0.5, 1.0]
M25_RR = [0, 0, 0, 0, 0, 0, 0, 0.2, 0.5, 1.5, 4.5, 2.0, 1.0, 0.5, 0.3, 1.0, 2.5, 0.5, 0.3, 0.5, 0.8, 0.5, 0.3, 1.0, 0.5, 0.3, 0.5, 1.0, 0.5, 1.5]
M26_RR = [0, 0, 0, 0, 0, 0, 0, 0, 0.2, 0.5, 1.5, 1.0, 0.5, 0.3, 0.5, 1.0, 0.5, 0.3, 0.5, 0.3, 1.0, 0.5, 0.3, 0.5, 0.3, 0.5, 0.3, 0.5, 0.3, 0.5]
M27_RR = [0, 0, 0, 0, 0, 0, 0, 0, 0.3, 1.5, 2.0, 1.0, 2.5, 1.0, 0.5, 1.5, 0.8, 0.5, 1.0, 0.5, 0.3, 0.8, 0.5, 1.5, 0.5, 0.3, 0.5, 1.5, 0.5, 0.3]
M28_RR = [0, 0, 0, 0, 0, 0, 0, 0.1, 0.3, 1.0, 2.0, 3.0, 1.5, 0.8, 0.5, 1.0, 0.5, 0.3, 1.5, 0.5, 0.3, 1.0, 0.5, 0.3, 0.8, 0.5, 0.3, 0.5, 2.5, 1.0]
M30_RR = [0, 0, 0, 0, 0, 0, 0, 0.1, 0.3, 1.0, 2.5, 1.5, 0.8, 0.5, 1.0, 0.5, 0.3, 3.5, 0.5, 0.8, 0.5, 0.3, 1.0, 0.5, 0.3, 4.0, 0.8, 0.5, 0.3, 0.5]
M31_RR = [0, 0, 0, 0, 0, 0, 0, 0, 0.3, 1.2, 2.0, 1.0, 0.5, 1.5, 0.5, 0.3, 1.0, 0.5, 0.3, 0.5, 1.5, 0.5, 0.3, 0.5, 1.0, 0.5, 0.3, 0.5, 0.3, 0.5]
M32_RR = [0, 0, 0, 0, 0, 0, 0, 0.2, 0.5, 1.0, 1.5, 2.5, 1.0, 0.5, 0.8, 2.0, 4.0, 1.0, 0.5, 0.3, 0.5, 1.0, 0.5, 0.3, 3.0, 0.8, 0.5, 0.3, 0.5, 1.0]
M33_RR = [0, 0, 0, 0, 0, 0, 0, 0.2, 0.5, 1.0, 2.0, 1.5, 1.0, 0.5, 0.3, 1.5, 0.8, 0.5, 0.3, 1.0, 8.4, 0.5, 12.4, 1.0, 0.5, 0.3, 0.8, 0.5, 0.3, 1.0]
M34_RR = [0, 0, 0, 0, 0, 0, 0, 0, 0.3, 0.5, 1.5, 0.8, 0.5, 1.0, 0.5, 0.3, 1.0, 0.5, 0.8, 14.3, 1.0, 0.5, 0.3, 0.8, 0.5, 0.3, 0.5, 1.0, 0.5, 0.3]
M35_RR = [0, 0, 0, 0, 0, 0, 0, 0, 0.2, 1.0, 1.5, 3.0, 1.5, 0.5, 0.3, 1.0, 0.5, 2.0, 0.5, 0.3, 0.5, 1.0, 0.3, 0.5, 1.0, 0.5, 0.3, 0.5, 1.0, 0.5]
M38_RR = [0, 0, 0, 0, 0, 0, 0, 0, 0.3, 0.8, 2.0, 1.5, 0.5, 0.3, 1.0, 0.5, 0.3, 0.8, 0.5, 1.0, 0.5, 0.3, 0.5, 1.5, 0.5, 0.3, 0.5, 0.3, 0.8, 0.5]
M40_RR = [0, 0, 0, 0, 0, 0, 0, 0.2, 0.5, 1.5, 2.0, 0.8, 3.5, 1.0, 0.5, 0.3, 1.0, 0.5, 0.3, 0.5, 1.0, 0.5, 0.3, 0.5, 0.8, 0.5, 0.3, 1.0, 0.5, 8.9]
M42_RR = [0, 0, 0, 0, 0, 0, 0, 0.1, 0.4, 1.0, 1.5, 2.0, 1.0, 0.5, 0.3, 1.0, 0.5, 1.5, 0.5, 0.3, 0.5, 0.3, 1.0, 0.5, 0.3, 0.5, 1.0, 0.5, 0.3, 2.0]
M43_RR = [0, 0, 0, 0, 0, 0, 0, 0, 0.2, 0.5, 1.0, 1.5, 0.8, 0.3, 0.5, 0.8, 0.5, 0.3, 0.5, 0.3, 0.8, 0.5, 0.3, 0.5, 2.5, 0.5, 0.3, 3.0, 0.5, 0.3]
M45_RR = [0, 0, 0, 0, 0, 0, 0, 0.1, 0.5, 1.0, 1.5, 2.0, 1.0, 0.5, 0.8, 2.5, 1.0, 0.5, 0.3, 1.5, 0.5, 0.8, 0.5, 0.3, 0.5, 1.0, 0.5, 0.3, 0.8, 3.5]
M46_RR = [0, 0, 0, 0, 0, 0, 0, 0.2, 0.5, 1.5, 2.5, 1.0, 0.5, 0.8, 0.5, 0.3, 1.0, 0.5, 0.3, 0.5, 0.3, 0.5, 1.0, 0.5, 0.3, 0.5, 0.3, 0.5, 0.8, 0.5]
M50_RR = [0, 0, 0, 0, 0, 0, 0, 0, 0.3, 1.0, 2.0, 1.5, 3.0, 1.0, 0.5, 0.3, 0.5, 1.0, 0.5, 0.3, 0.5, 1.5, 0.5, 0.3, 0.5, 1.0, 0.5, 0.3, 0.5, 0.3]

MEMBER_COLORS = ["#d4a0a0", "#d0a0e8", "#e08090", "#a05030", "#a0d0f0", "#8060c0", "#c8c020", "#e0b060",
                 "#80b070", "#30c070", "#c05080", "#c020c0", "#e03060", "#a0b0e8", "#d0b090", "#2060c0",
                 "#c8d070", "#b0e060", "#60a0d0", "#60e0e8", "#c04020", "#a0c8a0", "#c050e0", "#207060",
                 "#b02020", "#c09070", "#a03080", "#603090", "#902020", "#2060b0", "#50b080", "#30e0e0",
                 "#6020d0", "#a09050", "#90d080", "#c0e080", "#605020", "#e06060", "#302080", "#50d040",
                 "#a0d0c0", "#a02040", "#e090c0", "#7090b0", "#a030c0", "#20e080", "#e0e0a0", "#309090",
                 "#508030", "#c02030"]
MEMBER_LABELS = ["%02d" % i for i in range(1, 51)]

MEMBERS = [
    (1, M01_T850, M01_T500, M01_RR), (2, M02_T850, M02_T500, M02_RR), (3, M03_T850, M03_T500, M03_RR),
    (4, M04_T850, M04_T500, M04_RR), (5, M05_T850, M05_T500, M05_RR), (6, M06_T850, M06_T500, M06_RR),
    (7, M07_T850, M07_T500, M07_RR), (8, M08_T850, M08_T500, M08_RR), (9, M09_T850, M09_T500, M09_RR),
    (10, M10_T850, M10_T500, M10_RR), (11, M11_T850, M11_T500, M11_RR), (12, M12_T850, M12_T500, M12_RR),
    (13, M13_T850, M13_T500, M13_RR), (14, M14_T850, M14_T500, M14_RR), (16, M16_T850, M16_T500, M16_RR),
    (17, M17_T850, M17_T500, M17_RR), (18, M18_T850, M18_T500, M18_RR), (19, M19_T850, M19_T500, M19_RR),
    (20, M20_T850, M20_T500, M20_RR), (21, M21_T850, M21_T500, M21_RR), (22, M22_T850, M22_T500, M22_RR),
    (23, M23_T850, M23_T500, M23_RR), (24, M24_T850, M24_T500, M24_RR), (25, M25_T850, M25_T500, M25_RR),
    (26, M26_T850, M26_T500, M26_RR), (27, M27_T850, M27_T500, M27_RR), (28, M28_T850, M28_T500, M28_RR),
    (30, M30_T850, M30_T500, M30_RR), (31, M31_T850, M31_T500, M31_RR), (32, M32_T850, M32_T500, M32_RR),
    (33, M33_T850, M33_T500, M33_RR), (34, M34_T850, M34_T500, M34_RR), (35, M35_T850, M35_T500, M35_RR),
    (38, M38_T850, M38_T500, M38_RR), (40, M40_T850, M40_T500, M40_RR), (42, M42_T850, M42_T500, M42_RR),
    (43, M43_T850, M43_T500, M43_RR), (45, M45_T850, M45_T500, M45_RR), (46, M46_T850, M46_T500, M46_RR),
    (50, M50_T850, M50_T500, M50_RR),
]

def days(hours):
    return [h / 24.0 for h in hours]

# ---------------- main figure (plot area 50..690 x 0..600 px) ----------------
p = figure(width=724, height=600, x_range=Range1d(0, 15), y_range=Range1d(-52.571, 33.143),
           x_axis_location=None, y_axis_location=None, toolbar_location=None,
           output_backend="svg", min_border_left=50, min_border_right=34,
           min_border_top=0, min_border_bottom=0)
p.extra_y_ranges = {"mm": Range1d(-52.571 + 45, 33.143 + 45)}
p.outline_line_color = None
p.background_fill_color = "white"
p.border_fill_color = "white"
p.center = [c for c in p.center if not isinstance(c, Grid)]

GRID = "#c0c0c0"
p.add_layout(Grid(dimension=0, ticker=FixedTicker(ticks=DATE_DAYS),
                  grid_line_color=GRID, grid_line_width=1))
p.add_layout(Grid(dimension=1, ticker=FixedTicker(ticks=[30, 20, 10, -10, -20, -30, -40]),
                  grid_line_color=GRID, grid_line_width=2))
p.add_layout(Grid(dimension=1, ticker=FixedTicker(ticks=[25, 15, 5, -5, -15, -25, -35]),
                  grid_line_color=GRID, grid_line_width=1))
p.add_layout(Span(location=0, dimension="width", line_color="#8c8c8c", line_width=2.5))

axkw = dict(major_tick_line_color=None, minor_tick_line_color=None, major_tick_out=0, major_tick_in=0,
            major_label_text_font=MONO, major_label_text_font_size="10px", major_label_text_color="black")
p.add_layout(LinearAxis(ticker=FixedTicker(ticks=LEFT_TICKS), axis_line_color=GRID,
                        major_label_standoff=15, **axkw), "left")
p.add_layout(LinearAxis(y_range_name="mm", ticker=FixedTicker(ticks=RIGHT_TICKS), axis_line_color=GRID,
                        major_label_standoff=19, **axkw), "right")

x12 = days(HOURS_12)
xr12 = days(RR_HOURS_12)
for mid, t850, t500, rr in MEMBERS:
    col = MEMBER_COLORS[mid - 1]
    for xs, ys, rng in ((x12, t850, "default"), (x12, t500, "default"), (xr12, rr, "mm")):
        p.line(xs, ys, line_color=col, line_width=1, y_range_name=rng)
        p.scatter(xs, ys, marker="cross", size=5, line_color=col, line_width=1, y_range_name=rng)

x6 = days(HOURS_6)
xr6 = days(RR_HOURS_6)
p.line(x6, CTRL_T850, line_color="black", line_width=3, line_join="round")
p.line(x6, CTRL_T500, line_color="black", line_width=3, line_join="round")
p.line(xr6, CTRL_RR, line_color="black", line_width=3, line_join="round", y_range_name="mm")
p.line(x6, MEAN_T850, line_color="#ff0000", line_width=5, line_join="round")
p.line(x6, MEAN_T500, line_color="#ff0000", line_width=5, line_join="round")
p.line(xr6, MEAN_RR, line_color="#ff0000", line_width=5, line_join="round", y_range_name="mm")

tkw = dict(text_font=value(MONO), text_font_size=value("10px"), text_color="black",
           text_baseline="middle", text_align="left")
p.text(x=[0.234], y=[9.43], text=["Temp. 850hPa"], **tkw)
p.text(x=[0.234], y=[-14.1], text=["Temp. 500hPa"], **tkw)
p.text(x=[0.234], y=[-43.3], text=["Précipitations"], **tkw)

# ---------------- bottom strip: date labels, legend, caption (px coordinates) ----------------
q = figure(width=724, height=84, x_range=Range1d(0, 724), y_range=Range1d(684, 600),
           x_axis_location=None, y_axis_location=None, toolbar_location=None,
           output_backend="svg", min_border=0)
# same day scale as the plot above (day 0 at px 50, 42.667 px per day)
q.extra_x_ranges = {"days": Range1d(-50 / (640 / 15), (724 - 50) / (640 / 15))}
q.outline_line_color = None
q.center = [c for c in q.center if not isinstance(c, Grid)]

q.line([50, 690], [600.75, 600.75], line_color="#808080", line_width=1.5)
q.text(x=[d + 0.176 for d in DATE_DAYS], y=[602] * len(DATE_DAYS), text=DATE_LABELS,
       angle=math.pi / 2, x_range_name="days", text_font=value(MONO), text_font_size=value("10px"),
       text_color="black", text_align="right", text_baseline="middle")
q.text(x=[32], y=[607], text=["(°C)"], text_font=value(MONO), text_font_size=value("10px"),
       text_color="black", text_align="center", text_baseline="middle")
q.text(x=[703], y=[607], text=["(mm)"], text_font=value(MONO), text_font_size=value("9px"),
       text_color="black", text_align="left", text_baseline="middle")

q.line([35, 66], [636, 636], line_color="#ff0000", line_width=5)
q.line([225, 256], [636, 636], line_color="black", line_width=4)
q.text(x=[75, 265, 265, 370], y=[636, 636, 647, 647],
       text=["Moyenne des scénarios", "Contrôle/Det", "CEP/ECMWF", "50 Perts."], **tkw)

bw = 10.96
lefts = [430 + (i % 25) * bw for i in range(50)]
tops = [640 if i < 25 else 646 for i in range(50)]
q.quad(left=lefts, right=[l + bw for l in lefts], top=tops, bottom=[t + 6 for t in tops],
       fill_color=MEMBER_COLORS, line_color=None)
q.text(x=[l + bw / 2 for l in lefts], y=[636 if i < 25 else 656.5 for i in range(50)], text=MEMBER_LABELS,
       text_font=value(MONO), text_font_size=value("7.5px"), text_font_style="bold",
       text_align="center", text_baseline="middle", text_color="black")

q.quad(left=[20], right=[428], top=[654], bottom=[683], fill_color=None,
       line_color="black", line_width=1.5)
bkw = dict(tkw)
bkw["text_font_size"] = value("11.4px")
q.text(x=[30], y=[662], text=["Diagramme ensembles ECMWF/CEP 0.25° sur 360h : 48.1N 7E"],
       text_font_style="bold", **bkw)
q.text(x=[30], y=[675], text=["Températures 850hPa et 500hPa (°C) , précipitations (mm)"], **tkw)
q.text(x=[450], y=[666], text=["Ensemble ECMWF/CEP du 18/01/2025 - 00Z"], **tkw)
q.text(x=[450], y=[678], text=["Copyright 2025 Meteociel.fr - ECMWF"], text_font_style="bold", **bkw)

if "frame_align" in p.properties():
    p.frame_align = False
    q.frame_align = False
    doc_obj = column(p, q, spacing=0)
else:
    doc_obj = [p, q]

open("out.html", "w").write(file_html(doc_obj, INLINE))
